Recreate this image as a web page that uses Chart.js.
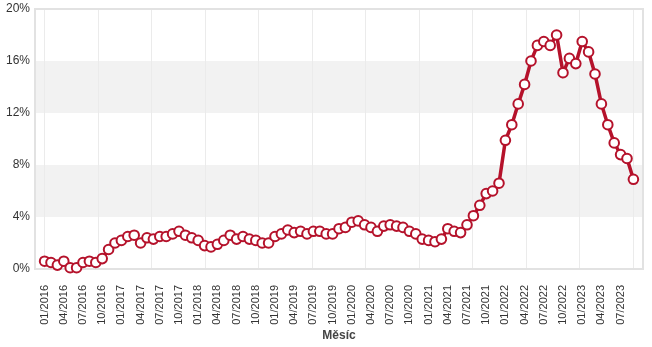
<!DOCTYPE html>
<html>
<head>
<meta charset="utf-8">
<script src="https://cdn.jsdelivr.net/npm/chart.js@4.4.1/dist/chart.umd.min.js"></script>
<style>
  html, body { margin: 0; padding: 0; background: #fff; }
  #wrap { width: 652px; height: 347px; }
</style>
</head>
<body>
<div id="wrap"><canvas id="c" width="652" height="347"></canvas></div>
<script>
// Monthly year-on-year inflation, 01/2016 – 09/2023
const months = [
  '01/2016','02/2016','03/2016','04/2016','05/2016','06/2016','07/2016','08/2016','09/2016','10/2016','11/2016','12/2016',
  '01/2017','02/2017','03/2017','04/2017','05/2017','06/2017','07/2017','08/2017','09/2017','10/2017','11/2017','12/2017',
  '01/2018','02/2018','03/2018','04/2018','05/2018','06/2018','07/2018','08/2018','09/2018','10/2018','11/2018','12/2018',
  '01/2019','02/2019','03/2019','04/2019','05/2019','06/2019','07/2019','08/2019','09/2019','10/2019','11/2019','12/2019',
  '01/2020','02/2020','03/2020','04/2020','05/2020','06/2020','07/2020','08/2020','09/2020','10/2020','11/2020','12/2020',
  '01/2021','02/2021','03/2021','04/2021','05/2021','06/2021','07/2021','08/2021','09/2021','10/2021','11/2021','12/2021',
  '01/2022','02/2022','03/2022','04/2022','05/2022','06/2022','07/2022','08/2022','09/2022','10/2022','11/2022','12/2022',
  '01/2023','02/2023','03/2023','04/2023','05/2023','06/2023','07/2023','08/2023','09/2023'
];

const inflation = [
  0.6, 0.5, 0.3, 0.6, 0.1, 0.1, 0.5, 0.6, 0.5, 0.8, 1.5, 2.0,
  2.2, 2.5, 2.6, 2.0, 2.4, 2.3, 2.5, 2.5, 2.7, 2.9, 2.6, 2.4,
  2.2, 1.8, 1.7, 1.9, 2.2, 2.6, 2.3, 2.5, 2.3, 2.2, 2.0, 2.0,
  2.5, 2.7, 3.0, 2.8, 2.9, 2.7, 2.9, 2.9, 2.7, 2.7, 3.1, 3.2,
  3.6, 3.7, 3.4, 3.2, 2.9, 3.3, 3.4, 3.3, 3.2, 2.9, 2.7, 2.3,
  2.2, 2.1, 2.3, 3.1, 2.9, 2.8, 3.4, 4.1, 4.9, 5.8, 6.0, 6.6,
  9.9, 11.1, 12.7, 14.2, 16.0, 17.2, 17.5, 17.2, 18.0, 15.1, 16.2, 15.8,
  17.5, 16.7, 15.0, 12.7, 11.1, 9.7, 8.8, 8.5, 6.9
];

// Every third month is labelled on the axis
const tickLabels = [
  '01/2016','04/2016','07/2016','10/2016','01/2017','04/2017','07/2017','10/2017',
  '01/2018','04/2018','07/2018','10/2018','01/2019','04/2019','07/2019','10/2019',
  '01/2020','04/2020','07/2020','10/2020','01/2021','04/2021','07/2021','10/2021',
  '01/2022','04/2022','07/2022','10/2022','01/2023','04/2023','07/2023'
];

const yTicks = [0, 4, 8, 12, 16, 20];
const shadedBands = [[4, 8], [12, 16]];

const points = inflation.map((v, i) => ({ x: i, y: v }));
const lastIdx = months.length - 1;
const verticalGridCount = 11;

const FONT = '"Liberation Sans", Arial, sans-serif';

// Alternating horizontal bands behind the plot, placed through the y scale
const bandsPlugin = {
  id: 'bands',
  beforeDraw(chart) {
    const { ctx, chartArea, scales } = chart;
    ctx.save();
    ctx.fillStyle = '#f2f2f2';
    shadedBands.forEach(([lo, hi]) => {
      const yTop = scales.y.getPixelForValue(hi);
      const yBot = scales.y.getPixelForValue(lo);
      ctx.fillRect(chartArea.left, yTop, chartArea.right - chartArea.left, yBot - yTop);
    });
    ctx.restore();
  }
};

// Light frame round the plot area
const framePlugin = {
  id: 'frame',
  beforeDatasetsDraw(chart) {
    const { ctx, chartArea } = chart;
    ctx.save();
    ctx.strokeStyle = '#e2e2e2';
    ctx.lineWidth = 2;
    ctx.strokeRect(chartArea.left, chartArea.top, chartArea.right - chartArea.left, chartArea.bottom - chartArea.top);
    ctx.restore();
  }
};

new Chart(document.getElementById('c'), {
  type: 'line',
  data: {
    datasets: [{
      data: points,
      borderColor: '#b5122b',
      borderWidth: 3.5,
      backgroundColor: '#ffffff',
      pointBackgroundColor: '#ffffff',
      pointBorderColor: '#b5122b',
      pointBorderWidth: 2,
      pointRadius: 4.8,
      tension: 0,
      clip: false
    }]
  },
  options: {
    responsive: false,
    animation: false,
    events: [],
    layout: { padding: { left: 0, right: 9, top: 9, bottom: 4 } },
    plugins: { legend: { display: false }, tooltip: { enabled: false } },
    scales: {
      x: {
        type: 'linear',
        position: 'bottom',
        min: -1.5,
        max: lastIdx + 1.5,
        afterBuildTicks(scale) {
          scale.ticks = tickLabels.map(l => ({ value: months.indexOf(l) }));
        },
        afterFit(scale) {
          scale.height = 74;
          scale.paddingLeft = 0;
          scale.paddingRight = 0;
        },
        ticks: {
          autoSkip: false,
          maxRotation: 90,
          minRotation: 90,
          padding: 8,
          color: '#333',
          font: { family: FONT, size: 11 },
          callback: v => months[v]
        },
        grid: { display: false },
        border: { display: false },
        title: {
          display: true,
          text: 'Měsíc',
          color: '#444',
          font: { family: FONT, size: 12, weight: 'bold' },
          padding: { top: 0, bottom: 0 }
        }
      },
      xg: {
        type: 'linear',
        position: 'top',
        min: -1.5,
        max: lastIdx + 1.5,
        afterBuildTicks(scale) {
          const t = [];
          for (let k = 0; k <= verticalGridCount; k++) t.push({ value: k * lastIdx / verticalGridCount });
          scale.ticks = t;
        },
        afterFit(scale) {
          scale.height = 0;
          scale.paddingLeft = 0;
          scale.paddingRight = 0;
        },
        ticks: { display: false },
        grid: { display: true, color: '#ebebeb', lineWidth: 1, drawTicks: false },
        border: { display: false }
      },
      y: {
        min: 0,
        max: 20,
        afterBuildTicks(scale) {
          scale.ticks = yTicks.map(v => ({ value: v }));
        },
        afterFit(scale) {
          scale.width = 35;
          scale.paddingTop = 0;
          scale.paddingBottom = 0;
        },
        ticks: {
          color: '#333',
          padding: 5,
          font: { family: FONT, size: 12 },
          callback: v => v + '%'
        },
        grid: { display: false, drawTicks: false },
        border: { display: false }
      }
    }
  },
  plugins: [bandsPlugin, framePlugin]
});
</script>
</body>
</html>
